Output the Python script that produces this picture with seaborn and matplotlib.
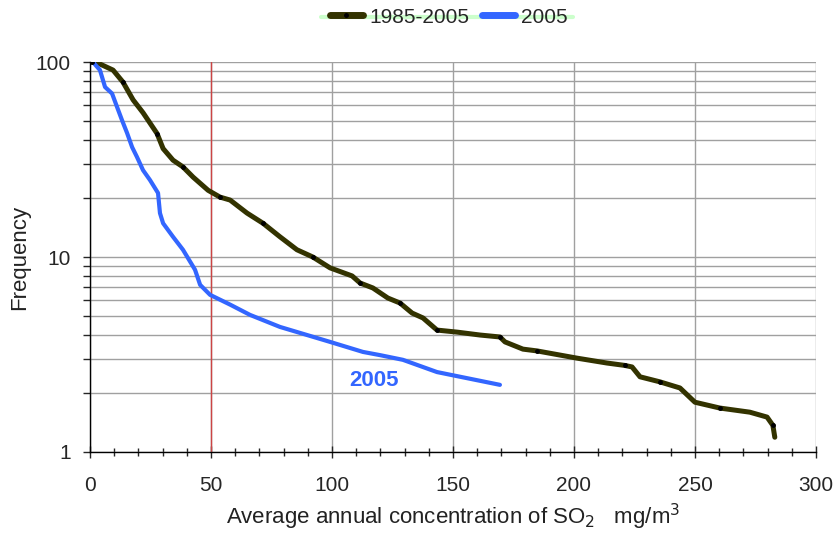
import matplotlib
matplotlib.use("Agg")
import matplotlib.pyplot as plt
import matplotlib.ticker as mticker
import pandas as pd
import seaborn as sns

# 1985-2005 curve
conc_all = [0.8, 3.3, 9.5, 13.6, 17.8, 21.9, 27.7, 30.2, 34.3, 38.4, 42.6, 48.8,
            53.7, 57.9, 64.9, 71.5, 78.5, 85.5, 92.1, 99.2, 108.3, 111.6, 116.9,
            123.1, 128.1, 133.1, 137.6, 143.4, 151.7, 161.2, 169.4, 171.5, 178.9,
            184.7, 201.2, 213.6, 221.0, 224.0, 227.3, 235.5, 243.8, 250.0, 260.3,
            272.7, 279.8, 282.2, 283.0]
freq_all = [100, 98.8, 91, 79, 64, 55, 43, 36, 31.4, 29, 25.7, 22,
            20.3, 19.6, 16.8, 14.9, 12.7, 10.9, 10, 8.8, 8.0, 7.36, 6.94,
            6.16, 5.81, 5.16, 4.87, 4.22, 4.12, 3.98, 3.89, 3.67, 3.37,
            3.30, 3.03, 2.86, 2.78, 2.73, 2.43, 2.29, 2.13, 1.80, 1.68,
            1.60, 1.51, 1.37, 1.19]

# 2005 curve
conc_2005 = [1.2, 4.1, 6.2, 9.1, 11.2, 13.2, 15.3, 17.4, 19.4, 21.9, 24.8, 28.1,
             28.9, 30.2, 34.3, 38.4, 43.4, 45.5, 49.6, 57.9, 66.1, 78.5, 99.2,
             112.8, 119.8, 129.3, 143.4, 169.4]
freq_2005 = [100, 91, 74.5, 69, 58.7, 50.4, 43.3, 36.6, 32.6, 27.9, 24.8, 21.3,
             16.8, 14.9, 12.7, 10.9, 8.6, 7.2, 6.4, 5.7, 5.05, 4.38, 3.67,
             3.26, 3.14, 2.97, 2.57, 2.21]

series_names = ["1985-2005", "2005"]
df = pd.concat([
    pd.DataFrame({"conc": conc_all, "freq": freq_all, "series": series_names[0]}),
    pd.DataFrame({"conc": conc_2005, "freq": freq_2005, "series": series_names[1]}),
])

sns.set_style("white")
plt.rcParams["font.family"] = ["Liberation Sans", "DejaVu Sans"]

fig = plt.figure(figsize=(8.36, 5.4), dpi=100)
ax = fig.add_axes([0.1077, 0.163, 0.8683, 0.722])

ax.set_yscale("log")
ax.set_xlim(0, 300)
ax.set_ylim(1, 100)

# grid first so the curves sit on top
ax.grid(True, which="major", axis="x", color="#a0a0a0", lw=1)
ax.grid(True, which="both", axis="y", color="#a0a0a0", lw=1)
ax.set_axisbelow(True)
ax.axvline(50, color="#cc4444", lw=1, zorder=1.5)

sns.lineplot(data=df[df.series == "1985-2005"], x="conc", y="freq", sort=False,
             color="#333300", linewidth=3.6, ax=ax, zorder=3)
sns.lineplot(data=df[df.series == "2005"], x="conc", y="freq", sort=False,
             color="#3366ff", linewidth=3.0, ax=ax, zorder=3)
ax.plot(conc_all[::3], freq_all[::3], ls="none", marker="o", ms=2.5,
        color="black", zorder=4)

ax.text(117.5, 2.34, "2005", color="#3366ff", fontsize=16, fontweight="bold",
        ha="center", va="center")

ax.xaxis.set_major_locator(mticker.MultipleLocator(50))
ax.xaxis.set_minor_locator(mticker.MultipleLocator(10))
ax.yaxis.set_major_locator(mticker.LogLocator(base=10))
ax.yaxis.set_minor_locator(mticker.LogLocator(base=10, subs=range(2, 10)))
ax.yaxis.set_minor_formatter(mticker.NullFormatter())
ax.yaxis.set_major_formatter(mticker.FuncFormatter(lambda v, p: f"{v:g}"))

ax.tick_params(axis="x", which="both", direction="inout", length=8, width=1,
               labelsize=15, pad=13, bottom=True)
ax.tick_params(axis="x", which="minor", length=6)
ax.tick_params(axis="y", which="both", direction="out", length=5, width=1,
               labelsize=15, left=True, pad=9)

for side in ["top", "right"]:
    ax.spines[side].set_visible(False)
for side in ["left", "bottom"]:
    ax.spines[side].set_color("black")
    ax.spines[side].set_linewidth(1)

ax.set_xlabel("Average annual concentration of SO$_2$   mg/m$^3$", fontsize=16,
              color="#222222", labelpad=5)
ax.set_ylabel("Frequency", fontsize=16, color="#222222", labelpad=4)

# thin light green band behind the legend, as in the original
fig.add_artist(plt.Line2D([0.384, 0.685], [0.968, 0.968], color="#ccffcc",
                          lw=3, transform=fig.transFigure, zorder=0))
handles = [plt.Line2D([], [], color="#333300", lw=5, marker="o", ms=2.5,
                      mfc="black", mec="black"),
           plt.Line2D([], [], color="#3366ff", lw=5)]
leg = fig.legend(handles, series_names, loc="center",
                 bbox_to_anchor=(0.537, 0.968), ncol=2, frameon=False,
                 fontsize=15, handlelength=1.6, columnspacing=0.6,
                 handletextpad=0.3)
leg.set_zorder(2)

fig.savefig("out.png", dpi=100)
